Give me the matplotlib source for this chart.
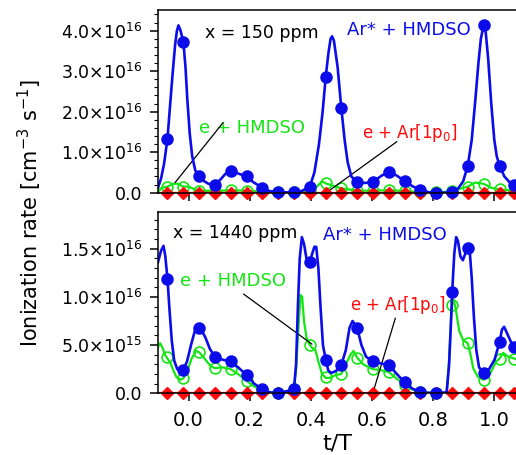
"""
Ionization rates of Ar* + HMDSO, e + HMDSO and e + Ar[1p0] over one period,
for two HMDSO admixtures (150 ppm and 1440 ppm). Values are in 1e16 cm^-3 s^-1.
"""
import matplotlib
matplotlib.use("Agg")
import matplotlib.pyplot as plt
from matplotlib.ticker import FixedLocator, MultipleLocator

plt.rcParams['font.family'] = ['DejaVu Sans']
plt.rcParams['mathtext.fontset'] = 'dejavusans'
plt.rcParams['mathtext.default'] = 'regular'

BLUE = '#0c0cea'
GREEN = '#14e614'
RED = '#ff0a0a'

# marker positions (t/T), shared by every series
t_mark = [-0.069, -0.017, 0.035, 0.086, 0.138, 0.190, 0.242, 0.293, 0.345, 0.397, 0.449, 0.500,
          0.552, 0.604, 0.656, 0.707, 0.759, 0.811, 0.863, 0.914, 0.966, 1.018, 1.067]

# ---- x = 150 ppm ----
blue150_mark = [1.33, 3.73, 0.40, 0.19, 0.54, 0.40, 0.12, 0.01, 0.01, 0.15, 2.86, 2.10,
                0.26, 0.27, 0.52, 0.29, 0.07, 0.00, 0.02, 0.66, 4.14, 0.67, 0.19]
green150_mark = [0.15, 0.15, 0.05, 0.04, 0.06, 0.05, 0.03, 0.01, 0.01, 0.04, 0.23, 0.11,
                 0.05, 0.05, 0.06, 0.04, 0.02, 0.01, 0.03, 0.15, 0.22, 0.08, 0.05]
red150_mark = [0, 0, 0, 0, 0, 0, 0, 0, 0, 0, 0, 0, 0, 0, 0, 0, 0, 0, 0, 0, 0, 0, 0]

blue150_t = [-0.100, -0.090, -0.080, -0.069, -0.060, -0.052, -0.044, -0.038, -0.033, -0.027,
             -0.017, -0.010, -0.004, 0.004, 0.012, 0.022, 0.035, 0.050, 0.065, 0.086,
             0.105, 0.120, 0.138, 0.160, 0.190, 0.212, 0.242, 0.265, 0.293, 0.345,
             0.370, 0.397, 0.412, 0.427, 0.439, 0.449, 0.458, 0.465, 0.470, 0.476,
             0.488, 0.500, 0.511, 0.521, 0.533, 0.552, 0.578, 0.604, 0.632, 0.656,
             0.682, 0.707, 0.733, 0.759, 0.787, 0.811, 0.840, 0.863, 0.882, 0.899,
             0.914, 0.927, 0.939, 0.949, 0.957, 0.966, 0.973, 0.981, 0.991, 1.001,
             1.009, 1.018, 1.034, 1.052, 1.067, 1.075]
blue150_v = [0.12, 0.35, 0.72, 1.33, 2.20, 2.95, 3.65, 4.00, 4.13, 4.02,
             3.73, 3.10, 2.30, 1.45, 0.90, 0.55, 0.40, 0.29, 0.22, 0.19,
             0.33, 0.46, 0.54, 0.48, 0.40, 0.26, 0.12, 0.04, 0.01, 0.01,
             0.04, 0.15, 0.50, 1.20, 2.00, 2.86, 3.45, 3.80, 3.86, 3.75,
             3.10, 2.10, 1.30, 0.75, 0.40, 0.26, 0.24, 0.27, 0.42, 0.52,
             0.42, 0.29, 0.16, 0.07, 0.01, 0.00, 0.00, 0.02, 0.10, 0.28,
             0.66, 1.30, 2.30, 3.20, 3.80, 4.14, 3.95, 3.30, 2.20, 1.30,
             0.90, 0.67, 0.40, 0.25, 0.19, 0.17]

green150_t = [-0.100, -0.088, -0.069, -0.050, -0.035, -0.017, 0.000, 0.015, 0.035, 0.086,
              0.138, 0.190, 0.242, 0.293, 0.345, 0.397, 0.420, 0.437, 0.449, 0.470,
              0.500, 0.552, 0.604, 0.656, 0.707, 0.759, 0.811, 0.863, 0.888, 0.914,
              0.938, 0.966, 0.992, 1.018, 1.067, 1.075]
green150_v = [0.02, 0.12, 0.15, 0.22, 0.22, 0.15, 0.15, 0.10, 0.05, 0.04,
              0.06, 0.05, 0.03, 0.01, 0.01, 0.04, 0.15, 0.28, 0.23, 0.18,
              0.11, 0.05, 0.05, 0.06, 0.04, 0.02, 0.01, 0.03, 0.10, 0.15,
              0.25, 0.22, 0.12, 0.08, 0.05, 0.05]

red_t = [-0.100, 1.075]
red_v = [0.0, 0.0]

# ---- x = 1440 ppm ----
blue1440_mark = [1.19, 0.245, 0.68, 0.38, 0.33, 0.19, 0.04, 0.00, 0.04, 1.365, 0.35, 0.29,
                 0.68, 0.33, 0.29, 0.114, 0.01, 0.00, 1.05, 1.51, 0.21, 0.53, 0.48]
green1440_mark = [0.38, 0.155, 0.425, 0.26, 0.25, 0.13, 0.03, 0.00, 0.04, 0.50, 0.17, 0.20,
                  0.37, 0.25, 0.22, 0.09, 0.01, 0.00, 0.92, 0.52, 0.14, 0.36, 0.36]
red1440_mark = [0, 0, 0, 0, 0, 0, 0, 0, 0, 0, 0, 0, 0, 0, 0, 0, 0, 0, 0, 0, 0, 0, 0]

blue1440_t = [-0.100, -0.090, -0.082, -0.076, -0.069, -0.062, -0.055, -0.047, -0.037, -0.027,
              -0.017, -0.005, 0.008, 0.020, 0.030, 0.040, 0.055, 0.070, 0.086, 0.110,
              0.138, 0.162, 0.190, 0.215, 0.242, 0.266, 0.293, 0.345, 0.352, 0.358,
              0.364, 0.371, 0.378, 0.386, 0.397, 0.405, 0.412, 0.418, 0.425, 0.432,
              0.440, 0.449, 0.457, 0.466, 0.482, 0.500, 0.515, 0.527, 0.537, 0.552,
              0.566, 0.581, 0.604, 0.630, 0.656, 0.682, 0.707, 0.732, 0.759, 0.811,
              0.845, 0.853, 0.858, 0.863, 0.870, 0.876, 0.882, 0.890, 0.898, 0.906,
              0.914, 0.920, 0.927, 0.934, 0.942, 0.951, 0.966, 0.982, 1.002, 1.018,
              1.026, 1.033, 1.046, 1.060, 1.067, 1.075]
blue1440_v = [1.36, 1.48, 1.53, 1.42, 1.19, 0.85, 0.55, 0.34, 0.25, 0.23,
              0.245, 0.33, 0.50, 0.64, 0.69, 0.67, 0.58, 0.46, 0.38, 0.35,
              0.33, 0.27, 0.19, 0.10, 0.04, 0.01, 0.00, 0.04, 0.30, 0.90,
              1.40, 1.62, 1.55, 1.40, 1.365, 1.45, 1.52, 1.52, 1.30, 0.90,
              0.50, 0.35, 0.24, 0.21, 0.23, 0.29, 0.45, 0.68, 0.75, 0.68,
              0.50, 0.38, 0.33, 0.31, 0.29, 0.20, 0.114, 0.05, 0.01, 0.00,
              0.01, 0.30, 0.65, 1.05, 1.45, 1.62, 1.58, 1.42, 1.38, 1.45,
              1.51, 1.50, 1.20, 0.80, 0.45, 0.27, 0.21, 0.24, 0.35, 0.53,
              0.66, 0.69, 0.60, 0.50, 0.48, 0.46]

green1440_t = [-0.100, -0.093, -0.085, -0.077, -0.069, -0.060, -0.050, -0.040, -0.027, -0.017,
               -0.005, 0.010, 0.025, 0.035, 0.050, 0.070, 0.086, 0.110, 0.138, 0.162,
               0.190, 0.215, 0.242, 0.270, 0.293, 0.345, 0.352, 0.360, 0.367, 0.372,
               0.378, 0.386, 0.397, 0.405, 0.415, 0.425, 0.437, 0.449, 0.462, 0.482,
               0.500, 0.515, 0.530, 0.540, 0.552, 0.572, 0.604, 0.630, 0.656, 0.682,
               0.707, 0.732, 0.759, 0.811, 0.845, 0.852, 0.858, 0.863, 0.868, 0.876,
               0.886, 0.899, 0.914, 0.922, 0.932, 0.947, 0.966, 0.987, 1.007, 1.018,
               1.030, 1.046, 1.067, 1.075]
green1440_v = [0.48, 0.52, 0.47, 0.40, 0.36, 0.32, 0.24, 0.17, 0.14, 0.155,
               0.22, 0.36, 0.44, 0.425, 0.37, 0.29, 0.26, 0.27, 0.25, 0.20,
               0.13, 0.07, 0.03, 0.01, 0.00, 0.04, 0.25, 0.70, 1.02, 1.00,
               0.75, 0.58, 0.50, 0.47, 0.45, 0.33, 0.20, 0.16, 0.16, 0.19,
               0.20, 0.30, 0.40, 0.44, 0.37, 0.30, 0.25, 0.24, 0.22, 0.15,
               0.09, 0.04, 0.01, 0.00, 0.01, 0.30, 0.70, 0.92, 0.97, 0.85,
               0.65, 0.55, 0.52, 0.42, 0.26, 0.17, 0.14, 0.20, 0.33, 0.36,
               0.42, 0.38, 0.36, 0.35]

# ticks
x_ticks = [0.0, 0.2, 0.4, 0.6, 0.8, 1.0]
x_ticklabels = ['0.0', '0.2', '0.4', '0.6', '0.8', '1.0']
y150_ticks = [0, 1, 2, 3, 4]
y150_ticklabels = ['0.0', r'1.0$\times$10$^{16}$', r'2.0$\times$10$^{16}$',
                   r'3.0$\times$10$^{16}$', r'4.0$\times$10$^{16}$']
y1440_ticks = [0, 0.5, 1.0, 1.5]
y1440_ticklabels = ['0.0', r'5.0$\times$10$^{15}$', r'1.0$\times$10$^{16}$',
                    r'1.5$\times$10$^{16}$']


def draw_panel(ax, blue_t, blue_v, blue_m, green_t, green_v, green_m, red_m):
    # green, then red, then blue on top
    ax.plot(green_t, green_v, color=GREEN, lw=1.6, zorder=3)
    ax.plot(t_mark, green_m, ls='none', marker='o', ms=7.8, mfc='none', mec=GREEN,
            mew=1.2, zorder=3, clip_on=False)
    ax.plot(red_t, red_v, color=RED, lw=1.6, zorder=4)
    ax.plot(t_mark, red_m, ls='none', marker='D', ms=6.5, color=RED, zorder=4, clip_on=False)
    ax.plot(blue_t, blue_v, color=BLUE, lw=1.9, zorder=5)
    ax.plot(t_mark, blue_m, ls='none', marker='o', ms=8, color=BLUE, zorder=5, clip_on=False)

    ax.set_xlim(-0.1, 1.072)
    ax.xaxis.set_major_locator(FixedLocator(x_ticks))
    ax.tick_params(axis='both', which='major', direction='out', length=5.5, width=1.1,
                   labelsize=12.5)
    ax.tick_params(axis='y', which='minor', direction='out', length=3, width=0.8)
    ax.tick_params(axis='y', which='major', pad=6)
    ax.spines['right'].set_visible(False)
    for sp in ax.spines.values():
        sp.set_linewidth(1.1)
        sp.set_zorder(10)


def link(ax, start, end):
    ax.annotate('', xy=end, xytext=start,
                arrowprops=dict(arrowstyle='-', color='black', lw=0.9, shrinkA=0, shrinkB=0))


def main():
    fig = plt.figure(figsize=(5.16, 4.55), dpi=100)

    # top panel: 150 ppm
    ax1 = fig.add_axes([158 / 516, 262.3 / 455, 358 / 516, 182.7 / 455])
    draw_panel(ax1, blue150_t, blue150_v, blue150_mark, green150_t, green150_v,
               green150_mark, red150_mark)
    ax1.set_ylim(0, 4.51)
    ax1.yaxis.set_major_locator(FixedLocator(y150_ticks))
    ax1.set_yticklabels(y150_ticklabels)
    ax1.yaxis.set_minor_locator(MultipleLocator(0.2))
    ax1.set_xticklabels([])

    ax1.text(0.055, 3.94, 'x = 150 ppm', color='black', fontsize=12.5, ha='left', va='center')
    ax1.text(0.518, 4.02, 'Ar* + HMDSO', color=BLUE, fontsize=13, ha='left', va='center')
    ax1.text(0.033, 1.60, 'e + HMDSO', color=GREEN, fontsize=13, ha='left', va='center')
    ax1.text(0.568, 1.47, 'e + Ar[1p$_0$]', color=RED, fontsize=12, ha='left', va='center')
    link(ax1, (0.113, 1.73), (-0.044, 0.25))
    link(ax1, (0.682, 1.26), (0.451, 0.0))

    # bottom panel: 1440 ppm
    ax2 = fig.add_axes([158 / 516, 61.7 / 455, 358 / 516, 181.6 / 455])
    draw_panel(ax2, blue1440_t, blue1440_v, blue1440_mark, green1440_t, green1440_v,
               green1440_mark, red1440_mark)
    ax2.set_ylim(0, 1.884)
    ax2.yaxis.set_major_locator(FixedLocator(y1440_ticks))
    ax2.set_yticklabels(y1440_ticklabels)
    ax2.yaxis.set_minor_locator(MultipleLocator(0.1))
    ax2.set_xticklabels(x_ticklabels)
    ax2.tick_params(axis='x', pad=7, labelsize=14)
    ax2.set_xlabel('t/T', fontsize=16, labelpad=3)

    ax2.text(-0.051, 1.66, 'x = 1440 ppm', color='black', fontsize=12.5, ha='left', va='center')
    ax2.text(0.440, 1.64, 'Ar* + HMDSO', color=BLUE, fontsize=13, ha='left', va='center')
    ax2.text(-0.027, 1.16, 'e + HMDSO', color=GREEN, fontsize=13, ha='left', va='center')
    ax2.text(0.527, 0.92, 'e + Ar[1p$_0$]', color=RED, fontsize=12, ha='left', va='center')
    link(ax2, (0.180, 1.03), (0.404, 0.51))
    link(ax2, (0.677, 0.78), (0.606, 0.03))

    fig.text(0.058, 0.531, 'Ionization rate [cm$^{-3}$ s$^{-1}$]', fontsize=15,
             rotation=90, ha='center', va='center')

    fig.savefig('out.png', dpi=100)


if __name__ == "__main__":
    main()
